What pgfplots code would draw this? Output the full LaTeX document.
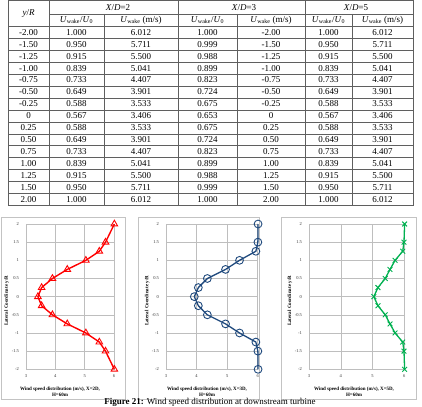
\documentclass[border=0pt]{standalone}
\usepackage{fontspec}
\setmainfont{Liberation Serif}
\usepackage{pgfplots}
\pgfplotsset{compat=1.18}

\definecolor{gridgray}{RGB}{190,190,190}
\definecolor{boxgray}{RGB}{195,195,195}
\definecolor{rulegray}{RGB}{95,95,95}
\definecolor{wakered}{RGB}{255,0,0}
\definecolor{wakeblue}{RGB}{31,73,125}
\definecolor{wakegreen}{RGB}{0,176,80}

\newcommand\tf{\fontsize{9}{10}\selectfont}
\newcommand\labfont{\fontsize{5}{6}\selectfont\bfseries}
\newcommand\Uw{\textit{U}\textsubscript{wake}}

\pgfplotsset{
  wakeplot/.style={
    scale only axis,
    height=145.3pt,
    anchor=south west,
    xmin=3, xmax=6, ymin=-2, ymax=2,
    xtick={3,4,5,6},
    ytick={-2,-1.5,-1,-0.5,0,0.5,1,1.5,2},
    grid=major,
    major grid style={draw=gridgray, line width=0.5pt},
    axis line style={draw=gridgray, line width=0.5pt},
    tick style={draw=none},
    ticklabel style={font=\fontsize{4.5}{5}\selectfont, text=black!80},
    /pgf/number format/assume math mode=true,
    yticklabel style={xshift=-3.5pt},
    xticklabel style={yshift=-2pt},
    clip=false,
  },
}

\begin{document}
\begin{tikzpicture}
\useasboundingbox (0pt,0pt) rectangle (422pt,406pt);

% ---------- data table ----------
\begin{scope}[x=1pt,y=-1pt,shift={(0pt,406pt)},font=\tf]
  \draw[rulegray, line width=0.6pt] (8,0.5) rectangle (413,205.5);
  \begin{scope}[rulegray, line width=0.6pt]
    \foreach \x in {49,178,305} \draw (\x,0.5) -- (\x,205.5);
    \foreach \x in {104,237,352} \draw (\x,14) -- (\x,205.5);
    \draw (49,14) -- (413,14);
    \foreach \i in {0,...,14} \draw (8,{26.3+11.95*\i}) -- (413,{26.3+11.95*\i});
  \end{scope}
  % header
  \node at (28.5,13.6) {\textit{y}/\textit{R}};
  \node at (118,7.3) {\textit{X}/\textit{D}=2};
  \node at (244,7.3) {\textit{X}/\textit{D}=3};
  \node at (356,7.3) {\textit{X}/\textit{D}=5};
  \foreach \x in {76.5,207.5,328.5} \node at (\x,20.3) {\Uw/\textit{U}\textsubscript{0}};
  \foreach \x in {141,271,382.5} \node at (\x,20.3) {\Uw{} (m/s)};
  % body
  \foreach \i/\a/\b/\c/\d/\e/\f/\g in {
     0/-2.00/1.000/6.012/1.000/-2.00/1.000/6.012,
     1/-1.50/0.950/5.711/0.999/-1.50/0.950/5.711,
     2/-1.25/0.915/5.500/0.988/-1.25/0.915/5.500,
     3/-1.00/0.839/5.041/0.899/-1.00/0.839/5.041,
     4/-0.75/0.733/4.407/0.823/-0.75/0.733/4.407,
     5/-0.50/0.649/3.901/0.724/-0.50/0.649/3.901,
     6/-0.25/0.588/3.533/0.675/-0.25/0.588/3.533,
     7/0/0.567/3.406/0.653/0/0.567/3.406,
     8/0.25/0.588/3.533/0.675/0.25/0.588/3.533,
     9/0.50/0.649/3.901/0.724/0.50/0.649/3.901,
    10/0.75/0.733/4.407/0.823/0.75/0.733/4.407,
    11/1.00/0.839/5.041/0.899/1.00/0.839/5.041,
    12/1.25/0.915/5.500/0.988/1.25/0.915/5.500,
    13/1.50/0.950/5.711/0.999/1.50/0.950/5.711,
    14/2.00/1.000/6.012/1.000/2.00/1.000/6.012} {
    \pgfmathsetmacro\yy{32.275+11.95*\i}
    \node at (28.5,\yy) {\a};
    \node at (76.5,\yy) {\b};
    \node at (141,\yy) {\c};
    \node at (207.5,\yy) {\d};
    \node at (271,\yy) {\e};
    \node at (328.5,\yy) {\f};
    \node at (382.5,\yy) {\g};
  }
  % chart frames
  \begin{scope}[boxgray, line width=0.5pt]
    \draw (1,217.7) rectangle (125.7,399.3);
    \draw (138.3,217.7) rectangle (259.3,399.3);
    \draw (281.7,217.7) rectangle (416.3,399.3);
  \end{scope}
\end{scope}

% ---------- X = 2D ----------
\begin{axis}[wakeplot, at={(26pt,36.7pt)}, width=88pt]
  \addplot[wakered, line width=1.4pt, mark=triangle,
           mark size=3.8pt, mark options={fill=white, line width=0.9pt}]
    coordinates {
      (6.012,-2) (5.711,-1.5) (5.500,-1.25) (5.041,-1) (4.407,-0.75)
      (3.901,-0.5) (3.533,-0.25) (3.406,0) (3.533,0.25) (3.901,0.5)
      (4.407,0.75) (5.041,1) (5.500,1.25) (5.711,1.5) (6.012,2)
    };
\end{axis}

% ---------- X = 3D ----------
\begin{axis}[wakeplot, at={(166pt,36.7pt)}, width=91.7pt]
  \addplot[wakeblue, line width=1.3pt, mark=o,
           mark size=3.9pt, mark options={fill=white, line width=0.9pt}]
    coordinates {
      (6.012,-2) (6.006,-1.5) (5.940,-1.25) (5.405,-1) (4.948,-0.75)
      (4.353,-0.5) (4.058,-0.25) (3.926,0) (4.058,0.25) (4.353,0.5)
      (4.948,0.75) (5.405,1) (5.940,1.25) (6.006,1.5) (6.012,2)
    };
\end{axis}

% ---------- X = 5D ----------
\begin{axis}[wakeplot, at={(309pt,36.7pt)}, width=95.3pt]
  \addplot[wakegreen, line width=1.3pt, mark=x,
           mark size=3.4pt, mark options={line width=0.9pt}]
    coordinates {
      (6.010,-2) (5.990,-1.5) (5.950,-1.25) (5.710,-1) (5.550,-0.75)
      (5.400,-0.5) (5.170,-0.25) (5.040,0) (5.170,0.25) (5.400,0.5)
      (5.550,0.75) (5.710,1) (5.950,1.25) (5.990,1.5) (6.010,2)
    };
\end{axis}

% ---------- axis titles ----------
\begin{scope}[font=\labfont]
  \node[rotate=90] at (6.7pt,105pt) {Lateral Coordinate y/R};
  \node[rotate=90] at (147.3pt,105pt) {Lateral Coordinate y/R};
  \node[rotate=90] at (290pt,105pt) {Lateral Coordinate y/R};
  \node[align=center] at (60pt,14.7pt) {Wind speed distribution (m/s), X=2D,\\H=60m};
  \node[align=center] at (207pt,14.7pt) {Wind speed distribution (m/s), X=3D,\\H=60m};
  \node[align=center] at (354pt,14.7pt) {Wind speed distribution (m/s), X=5D,\\H=60m};
\end{scope}

% ---------- caption ----------
\node[anchor=base, font=\fontsize{9}{11}\selectfont] at (210pt,1.9pt)
  {\textbf{Figure 21:} Wind speed distribution at downstream turbine};
\end{tikzpicture}
\end{document}
